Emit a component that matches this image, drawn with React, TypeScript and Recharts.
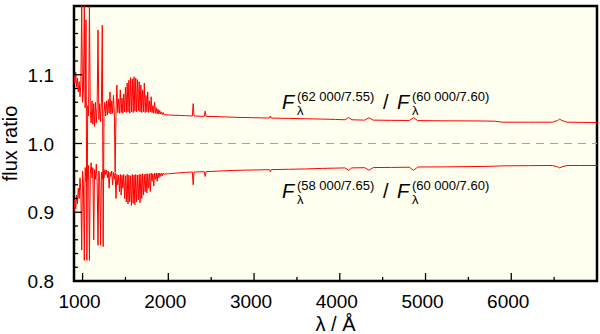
import React from 'react';
import { LineChart, Line, XAxis, YAxis, ReferenceArea, ReferenceDot, CartesianGrid } from 'recharts';

// wavelength grid (Å) of the noisy far-UV part
const waveNoisy = [
  900, 910, 920, 930, 940, 950, 960, 970, 980, 990,
  1000, 1010, 1020, 1030, 1040, 1050, 1060, 1070, 1080, 1090,
  1100, 1110, 1120, 1130, 1140, 1150, 1160, 1170, 1180, 1190,
  1200, 1210, 1220, 1230, 1240, 1250, 1260, 1270, 1280, 1290,
  1300, 1310, 1320, 1330, 1340, 1350, 1360, 1370, 1380, 1390,
  1400, 1410, 1420, 1430, 1440, 1450, 1460, 1470, 1480, 1490,
  1500, 1510, 1520, 1530, 1540, 1550, 1560, 1570, 1580, 1590,
  1600, 1610, 1620, 1630, 1640, 1650, 1660, 1670, 1680, 1690,
  1700, 1710, 1720, 1730, 1740, 1750, 1760, 1770, 1780, 1790,
  1800, 1810, 1820, 1830, 1840, 1850, 1860, 1870, 1880, 1890,
  1900, 1910, 1920, 1930, 1940, 1950,
];

// F(62000/7.55) / F(60000/7.60)
const upperNoisy = [
  1.100, 1.088, 1.104, 1.082, 1.095, 1.075, 1.090, 1.068, 1.085, 1.200,
  1.060, 1.078, 1.200, 1.052, 1.180, 0.830, 1.055, 1.040, 1.200, 1.048,
  1.030, 1.062, 1.028, 1.058, 1.025, 1.060, 1.030, 1.055, 1.165, 1.035,
  1.058, 1.032, 1.060, 1.172, 0.850, 1.045, 1.060, 1.040, 1.062, 1.042,
  1.064, 1.044, 1.075, 1.043, 1.062, 1.044, 1.070, 1.045, 0.958, 1.046,
  1.085, 1.045, 1.065, 1.044, 1.078, 1.045, 1.066, 1.044, 1.072, 1.046,
  1.082, 1.045, 1.088, 1.046, 1.092, 1.044, 1.096, 1.046, 1.094, 1.045,
  1.097, 1.047, 1.095, 1.046, 1.093, 1.048, 1.090, 1.046, 1.085, 1.045,
  1.078, 1.046, 1.088, 1.045, 1.070, 1.046, 1.075, 1.045, 1.062, 1.046,
  1.068, 1.045, 1.055, 1.044, 1.060, 1.044, 1.052, 1.043, 1.050, 1.043,
  1.048, 1.043, 1.046, 1.042, 1.045, 1.042,
];

// F(58000/7.65) / F(60000/7.60)
const lowerNoisy = [
  0.900, 0.918, 0.905, 0.925, 0.912, 0.935, 0.920, 0.950, 0.930, 0.845,
  0.960, 0.940, 0.830, 0.965, 0.945, 0.970, 0.948, 0.968, 0.830, 0.955,
  0.972, 0.950, 0.965, 0.860, 0.962, 0.948, 0.970, 0.945, 0.852, 0.960,
  0.945, 0.852, 0.958, 0.948, 0.960, 0.950, 0.962, 0.955, 0.961, 0.950,
  0.960, 0.935, 0.958, 0.952, 0.960, 0.940, 0.958, 0.948, 0.957, 0.920,
  0.955, 0.940, 0.954, 0.930, 0.955, 0.925, 0.954, 0.935, 0.955, 0.920,
  0.953, 0.915, 0.955, 0.912, 0.954, 0.915, 0.953, 0.910, 0.955, 0.913,
  0.954, 0.911, 0.955, 0.915, 0.954, 0.918, 0.955, 0.914, 0.955, 0.920,
  0.956, 0.925, 0.955, 0.930, 0.956, 0.928, 0.956, 0.935, 0.956, 0.930,
  0.957, 0.945, 0.956, 0.938, 0.957, 0.948, 0.957, 0.945, 0.957, 0.950,
  0.957, 0.952, 0.957, 0.953, 0.957, 0.955,
];

// smooth optical part
const waveSmooth = [
  1960, 2000, 2100, 2200, 2280, 2290, 2300, 2420, 2430, 2440,
  2600, 2800, 3000, 3180, 3190, 3200, 3400, 3600, 3800, 3950,
  4060, 4102, 4140, 4290, 4340, 4390, 4600, 4810, 4861, 4910,
  5200, 5600, 5800, 5900, 6200, 6480, 6540, 6563, 6590, 6650,
  6800, 7000,
];
const upperSmooth = [
  1.0420, 1.0415, 1.0410, 1.0405, 1.0400, 1.0580, 1.0400, 1.0395, 1.0470, 1.0395,
  1.0390, 1.0380, 1.0375, 1.0370, 1.0400, 1.0370, 1.0365, 1.0360, 1.0355, 1.0350,
  1.0345, 1.0378, 1.0345, 1.0340, 1.0375, 1.0340, 1.0337, 1.0335, 1.0375, 1.0333,
  1.0330, 1.0328, 1.0325, 1.0310, 1.0310, 1.0310, 1.0335, 1.0355, 1.0335, 1.0310,
  1.0308, 1.0305,
];
const lowerSmooth = [
  0.9555, 0.9560, 0.9570, 0.9580, 0.9585, 0.9400, 0.9585, 0.9590, 0.9520, 0.9590,
  0.9600, 0.9610, 0.9615, 0.9620, 0.9590, 0.9620, 0.9625, 0.9630, 0.9638, 0.9642,
  0.9645, 0.9610, 0.9645, 0.9648, 0.9612, 0.9650, 0.9652, 0.9655, 0.9610, 0.9658,
  0.9660, 0.9665, 0.9670, 0.9675, 0.9678, 0.9680, 0.9660, 0.9645, 0.9660, 0.9680,
  0.9680, 0.9680,
];

// unity reference level
const unityWave = [900, 7000];
const unityValue = [1.0, 1.0];

const xTicks = [1000, 1500, 2000, 2500, 3000, 3500, 4000, 4500, 5000, 5500, 6000, 6500];
const xLabels = [1000, 2000, 3000, 4000, 5000, 6000];
const yTicks = [
  0.8, 0.82, 0.84, 0.86, 0.88, 0.9, 0.92, 0.94, 0.96, 0.98,
  1.0, 1.02, 1.04, 1.06, 1.08, 1.1, 1.12, 1.14, 1.16, 1.18,
];
const yLabels = ['0.8', '0.9', '1.0', '1.1'];

const upperLabel = '(62 000/7.55)';
const lowerLabel = '(58 000/7.65)';
const refLabel = '(60 000/7.60)';
const xTitle = 'λ / Å';
const yTitle = 'flux ratio';

const upper = [
  ...waveNoisy.map((w, i) => ({ w, v: upperNoisy[i] })),
  ...waveSmooth.map((w, i) => ({ w, v: upperSmooth[i] })),
];
const lower = [
  ...waveNoisy.map((w, i) => ({ w, v: lowerNoisy[i] })),
  ...waveSmooth.map((w, i) => ({ w, v: lowerSmooth[i] })),
];
const unity = unityWave.map((w, i) => ({ w, v: unityValue[i] }));

const FONT = '"Liberation Sans", Arial, Helvetica, sans-serif';
const TICK_FS = 19;
const isMajorY = (v: number) => Math.abs(v * 10 - Math.round(v * 10)) < 1e-6;

const bottomTick = (props: any) => {
  const { x, y, payload } = props;
  const v = payload.value;
  const major = xLabels.includes(v);
  return (
    <g>
      <line x1={x} x2={x} y1={y} y2={y - (major ? 8 : 4)} stroke="#000" strokeWidth={1.3} />
      {major && (
        <text x={x - 3} y={y + 27} textAnchor="middle" fontSize={TICK_FS} fontFamily={FONT} fill="#000">
          {v}
        </text>
      )}
    </g>
  );
};

const topTick = (props: any) => {
  const { x, y, payload } = props;
  const major = xLabels.includes(payload.value);
  return <line x1={x} x2={x} y1={y} y2={y + (major ? 8 : 4)} stroke="#000" strokeWidth={1.3} />;
};

const leftTick = (props: any) => {
  const { x, y, payload } = props;
  const v = payload.value;
  const major = isMajorY(v);
  const lab = v.toFixed(1);
  return (
    <g>
      <line x1={x} x2={x + (major ? 8 : 4)} y1={y} y2={y} stroke="#000" strokeWidth={1.3} />
      {major && yLabels.includes(lab) && (
        <text x={x - 20} y={y + 7} textAnchor="end" fontSize={TICK_FS} fontFamily={FONT} fill="#000">
          {lab}
        </text>
      )}
    </g>
  );
};

const rightTick = (props: any) => {
  const { x, y, payload } = props;
  const major = isMajorY(payload.value);
  return <line x1={x} x2={x - (major ? 8 : 4)} y1={y} y2={y} stroke="#000" strokeWidth={1.3} />;
};

const xTitleLabel = (props: any) => {
  const vb = props.viewBox || { x: 74, y: 281, width: 523, height: 1 };
  return (
    <text x={vb.x + vb.width / 2} y={281 + 50} textAnchor="middle" fontSize={20} fontFamily={FONT} fill="#000">
      {xTitle}
    </text>
  );
};

const yTitleLabel = (props: any) => {
  const vb = props.viewBox || { x: 73, y: 6, width: 1, height: 275 };
  const cx = 17;
  const cy = vb.y + vb.height / 2;
  return (
    <text
      x={cx}
      y={cy}
      textAnchor="middle"
      fontSize={20}
      fontFamily={FONT}
      fill="#000"
      transform={`rotate(-90, ${cx}, ${cy})`}
    >
      {yTitle}
    </text>
  );
};

const makeRatioLabel = (num: string) => (props: any) => {
  const vb = props.viewBox || { x: 0, y: 0, width: 0, height: 0 };
  const x = vb.x + (vb.width || 0) / 2;
  const y = vb.y + (vb.height || 0) / 2;
  return (
    <g fontFamily={FONT} fill="#000">
      <text x={x} y={y} fontSize={20} fontStyle="italic">F</text>
      <text x={x + 15} y={y - 8} fontSize={13}>{num}</text>
      <text x={x + 15} y={y + 6} fontSize={13}>λ</text>
      <text x={x + 101} y={y} fontSize={20}>/</text>
      <text x={x + 115} y={y} fontSize={20} fontStyle="italic">F</text>
      <text x={x + 130} y={y - 8} fontSize={13}>{refLabel}</text>
      <text x={x + 130} y={y + 6} fontSize={13}>λ</text>
    </g>
  );
};

export default function App() {
  return (
    <div style={{ position: 'absolute', left: 0, top: 0, width: 600, height: 334, background: '#fff' }}>
      <LineChart width={600} height={334} margin={{ top: 5, right: 2, bottom: 52, left: 73 }}>
        <CartesianGrid horizontal={false} vertical={false} fill="#fffff0" />
        <XAxis
          dataKey="w"
          type="number"
          domain={[900, 7000]}
          allowDataOverflow
          ticks={xTicks}
          interval={0}
          height={1}
          tickSize={0}
          tickMargin={0}
          axisLine={false}
          tickLine={false}
          tick={bottomTick}
          label={xTitleLabel}
        />
        <XAxis
          xAxisId="t"
          orientation="top"
          type="number"
          domain={[900, 7000]}
          ticks={xTicks}
          interval={0}
          height={1}
          tickSize={0}
          tickMargin={0}
          axisLine={false}
          tickLine={false}
          tick={topTick}
        />
        <YAxis
          type="number"
          domain={[0.8, 1.2]}
          allowDataOverflow
          ticks={yTicks}
          interval={0}
          width={1}
          tickSize={0}
          tickMargin={0}
          axisLine={false}
          tickLine={false}
          tick={leftTick}
          label={yTitleLabel}
        />
        <YAxis
          yAxisId="r"
          orientation="right"
          type="number"
          domain={[0.8, 1.2]}
          ticks={yTicks}
          interval={0}
          width={1}
          tickSize={0}
          tickMargin={0}
          axisLine={false}
          tickLine={false}
          tick={rightTick}
        />
        <Line
          data={unity}
          dataKey="v"
          type="linear"
          stroke="#5cd65c"
          strokeWidth={1}
          strokeDasharray="8 6"
          dot={false}
          isAnimationActive={false}
        />
        <Line
          data={upper}
          dataKey="v"
          type="linear"
          stroke="#ff0000"
          strokeWidth={1}
          dot={false}
          isAnimationActive={false}
        />
        <Line
          data={lower}
          dataKey="v"
          type="linear"
          stroke="#ff0000"
          strokeWidth={1}
          dot={false}
          isAnimationActive={false}
        />
        <ReferenceDot x={3325} y={1.0502} r={0} fill="none" stroke="none" label={makeRatioLabel(upperLabel)} />
        <ReferenceDot x={3325} y={0.9207} r={0} fill="none" stroke="none" label={makeRatioLabel(lowerLabel)} />
        <ReferenceArea x1={900} x2={7000} y1={0.8} y2={1.2} fill="none" fillOpacity={0} stroke="#000" strokeWidth={2.5} />
      </LineChart>
    </div>
  );
}
